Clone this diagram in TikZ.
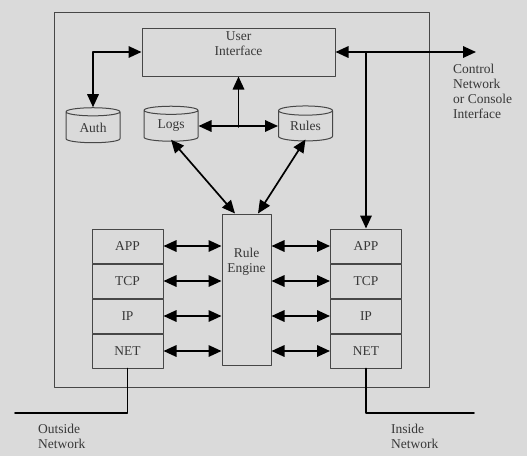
\documentclass[tikz,border=0pt]{standalone}
\usepackage{fontspec}
\setmainfont{Liberation Serif}
\usetikzlibrary{arrows.meta,positioning,shapes.geometric}
\definecolor{dcdcdc}{rgb}{0.855,0.855,0.855}
\definecolor{sqsqsq}{rgb}{0.28,0.28,0.28}
\definecolor{zzzzzz}{rgb}{0.22,0.22,0.22}
\begin{document}
\begin{tikzpicture}[line cap=round,line join=round,>={Triangle[length=13pt,width=11.5pt]},x=1pt,y=-1pt,
  box/.style={draw=sqsqsq,line width=1pt,text=zzzzzz,inner sep=0pt,align=center,font=\fontsize{13.5}{15}\selectfont},
  db/.style={box,cylinder,shape border rotate=90,aspect=0.3,minimum width=54pt,minimum height=35pt},
  layer/.style={box,minimum width=71pt,minimum height=34pt},
  link/.style={line width=1.7pt,color=black},
  lbl/.style={text=zzzzzz,align=left,anchor=north west,inner sep=0pt,font=\fontsize{13.5}{15}\selectfont}]
\fill[dcdcdc] (0,0) rectangle (527,456);
\useasboundingbox (0,0) rectangle (527,456);
% firewall host
\draw[box] (54,12) rectangle (429,387);
\node[box,minimum width=193pt,minimum height=48pt,text depth=16pt] (ui) at (238.5,52) {User\\Interface};
\node[db] (auth) at (93,127.5) {Auth};
\node[db] (logs) at (171,126) {Logs};
\node[db] (rules) at (305.5,126) {Rules};
\node[box,minimum width=49pt,minimum height=151pt,text depth=58pt] (re) at (246.5,289.5) {Rule\\Engine};
% protocol stacks
\node[layer] (lapp) at (127.5,246) {APP};
\node[layer,below=0pt of lapp] (ltcp) {TCP};
\node[layer,below=0pt of ltcp] (lip) {IP};
\node[layer,below=0pt of lip] (lnet) {NET};
\node[layer] (rapp) at (366,246) {APP};
\node[layer,below=0pt of rapp] (rtcp) {TCP};
\node[layer,below=0pt of rtcp] (rip) {IP};
\node[layer,below=0pt of rip] (rnet) {NET};
\foreach \l in {app,tcp,ip,net} {
  \draw[link,<->] (l\l.east) -- (l\l.east -| re.west);
  \draw[link,<->] (r\l.west -| re.east) -- (r\l.west);
}
% links
\coordinate (hub) at (238.5,127);
\coordinate (ctl) at (476,52);
\coordinate (outside) at (15,413);
\coordinate (inside) at (474,413);
\draw[link,<->] (auth.north) |- (ui.west);
\draw[link,->] (hub) -- (ui.south);
\draw[link,<->] (logs.east) -- (rules.west);
\draw[link,<->] (ui.east) -- (ctl);
\draw[link,->] (ui.east -| rapp.north) -- (rapp.north);
\draw[link,<->] ([yshift=2pt]logs.south) -- ([xshift=-11.5pt]re.north);
\draw[link,<->] ([yshift=2pt]rules.south) -- ([xshift=11.5pt]re.north);
\draw[link] (lnet.south) |- (outside);
\draw[link] (rnet.south) |- (inside);
% labels
\node[lbl] (ctltext) at (453,64) {Control\\Network\\or Console\\Interface};
\node[lbl] (outtext) at (38,424) {Outside\\Network};
\node[lbl] (intext) at (391,424) {Inside\\Network};
\end{tikzpicture}
\end{document}
